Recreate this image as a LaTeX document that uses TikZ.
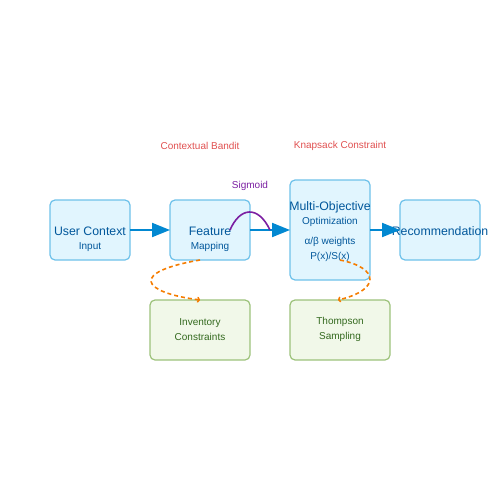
\documentclass[tikz,border=0pt]{standalone}
\usepackage{fontspec}
\setmainfont{Liberation Sans}
\usetikzlibrary{arrows.meta}
\definecolor{boxfill}{HTML}{E1F5FE}
\definecolor{boxdraw}{HTML}{6EC1EA}
\definecolor{boxtext}{HTML}{01579B}
\definecolor{gfill}{HTML}{F1F8E9}
\definecolor{gdraw}{HTML}{9CC27B}
\definecolor{gtext}{HTML}{33691E}
\definecolor{flow}{HTML}{0288D1}
\definecolor{lbl}{HTML}{E05050}
\definecolor{purp}{HTML}{7B1FA2}
\definecolor{orng}{HTML}{F57C00}
\begin{document}
\begin{tikzpicture}[x=1pt,y=-1pt,
  bbox/.style={draw=boxdraw, fill=boxfill, line width=1.2pt, rounded corners=5pt, inner sep=0pt, outer sep=0pt},
  gbox/.style={draw=gdraw, fill=gfill, line width=1.2pt, rounded corners=5pt, inner sep=0pt, outer sep=0pt, minimum width=100pt, minimum height=60pt},
  maintxt/.style={text=boxtext, font=\fontsize{12.3}{14}\selectfont, inner sep=0pt},
  subtxt/.style={text=boxtext, font=\fontsize{10}{12}\selectfont, inner sep=0pt},
  gtxt/.style={text=gtext, font=\fontsize{10}{15}\selectfont, align=center, inner sep=0pt},
  toplbl/.style={text=lbl, font=\fontsize{10}{12}\selectfont, inner sep=0pt},
  flowarrow/.style={draw=flow, line width=2pt, -{Triangle[length=18pt, width=14pt]}},
  orngdash/.style={draw=orng, line width=1.6pt, dash pattern=on 4pt off 3pt, -{To[length=3pt, width=6pt]}},
]
\useasboundingbox (0,0) rectangle (500,500);

% boxes
\node[bbox, minimum width=80pt, minimum height=60pt] (ctx) at (90,230) {};
\node[bbox, minimum width=80pt, minimum height=60pt] (feat) at (210,230) {};
\node[bbox, minimum width=80pt, minimum height=100pt] (mo) at (330,230) {};
\node[bbox, minimum width=80pt, minimum height=60pt] (rec) at (440,230) {};
\node[gbox] (inv) at (200,330) {};
\node[gbox] (thom) at (340,330) {};

% texts
\node[maintxt] (ctxt) at (90,231) {User Context};
\node[subtxt] (ctxs) at (90,247) {Input};
\node[maintxt] (featt) at (210,231) {Feature};
\node[subtxt] (feats) at (210,247) {Mapping};
\node[maintxt] (mot) at (330,207) {Multi-Objective};
\node[subtxt] (mos1) at (330,222) {Optimization};
\node[subtxt] (mos2) at (330,242) {α/β weights};
\node[subtxt] (mos3) at (330,257) {P(x)/S(x)};
\node[maintxt] (rect) at (440,231) {Recommendation};
\node[gtxt] (invt) at (200,329.5) {Inventory\\Constraints};
\node[gtxt] (thomt) at (340,329.5) {Thompson\\Sampling};

% labels
\node[toplbl] (cb) at (200,146) {Contextual Bandit};
\node[toplbl] (kc) at (340,146) {Knapsack Constraint};
\node[text=purp, font=\fontsize{10}{12}\selectfont, inner sep=0pt] (sig) at (250,186) {Sigmoid};

% flow arrows
\draw[flowarrow] (ctx.east) -- (feat.west);
\draw[flowarrow] (feat.east) -- (mo.west);
\draw[flowarrow] (mo.east) -- (rec.west);

% sigmoid curve
\coordinate (s0) at (230,230);
\coordinate (s1) at (270,230);
\draw[purp, line width=1.6pt] (s0) .. controls (240,207) and (258,205) .. (s1);

% orange dashed curves
\coordinate (o1s) at (200,260);
\draw[orngdash] (o1s) .. controls (130,272) and (140,292) .. (inv.north);
\coordinate (o2s) at (340,260);
\draw[orngdash] (o2s) .. controls (380,268) and (380,290) .. (338,300);
\end{tikzpicture}
\end{document}
